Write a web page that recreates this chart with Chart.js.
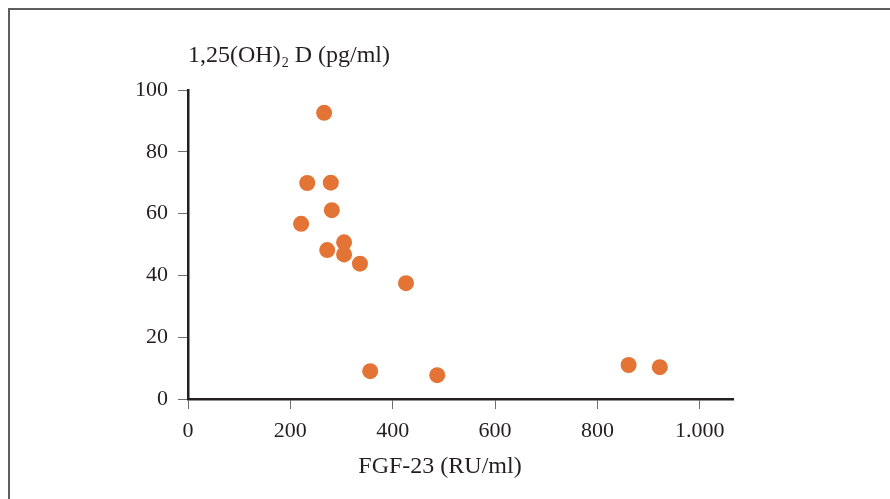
<!DOCTYPE html>
<html lang="en">
<head>
<meta charset="UTF-8">
<title>FGF-23 vs 1,25(OH)2 D</title>
<style>
  html, body {
    margin: 0;
    padding: 0;
    background: #ffffff;
    overflow: hidden;
  }
  .wrap {
    position: relative;
    width: 890px;
    height: 499px;
  }
  .frame {
    position: absolute;
    left: 8px;
    top: 8px;
    width: 900px;
    height: 520px;
    border-top: 2px solid #5e5e5e;
    border-left: 2px solid #5e5e5e;
  }
  canvas {
    position: absolute;
    left: 0;
    top: 0;
  }
</style>
</head>
<body>
<div class="wrap">
  <div class="frame"></div>
  <canvas id="plot" width="890" height="499"></canvas>
</div>
<script src="https://cdn.jsdelivr.net/npm/chart.js@4/dist/chart.umd.min.js"></script>
<script>
  // FGF-23 (RU/ml) against 1,25(OH)2 D (pg/ml)
  var fgf23 = [266, 233, 279, 281, 221, 272, 305, 305, 336, 426, 356, 487, 861, 922];
  var vitD = [92.6, 69.9, 70.0, 61.1, 56.7, 48.2, 50.7, 46.8, 43.8, 37.5, 9.0, 7.7, 11.0, 10.3];
  var xTicks = [0, 200, 400, 600, 800, 1000];
  var yTicks = [0, 20, 40, 60, 80, 100];

  var ink = '#231f20';
  var serif = '"Liberation Serif", "Times New Roman", serif';

  var points = fgf23.map(function(v, i) { return { x: v, y: vitD[i] }; });

  function dotted(v) {
    var s = String(v);
    return s.length > 3 ? s.slice(0, -3) + '.' + s.slice(-3) : s;
  }

  // axis titles: y title sits above the axis, x title below the labels
  var titles = {
    id: 'titles',
    afterDraw: function(chart) {
      var ctx = chart.ctx;
      var area = chart.chartArea;
      ctx.save();
      ctx.fillStyle = ink;
      ctx.textBaseline = 'alphabetic';
      ctx.textAlign = 'left';
      var x = area.left;
      var base = area.top - 28;
      ctx.font = '24px ' + serif;
      ctx.fillText('1,25(OH)', x, base);
      x += ctx.measureText('1,25(OH)').width + 1;
      ctx.font = '14px ' + serif;
      ctx.fillText('2', x, base + 5);
      x += ctx.measureText('2').width;
      ctx.font = '24px ' + serif;
      ctx.fillText(' D (pg/ml)', x, base);

      ctx.textAlign = 'center';
      ctx.fillText('FGF-23 (RU/ml)', area.left + 252, area.bottom + 74);
      ctx.restore();
    }
  };

  new Chart(document.getElementById('plot'), {
    type: 'scatter',
    data: {
      datasets: [{
        data: points,
        backgroundColor: '#e37435',
        borderWidth: 0,
        pointRadius: 8,
        pointHoverRadius: 8
      }]
    },
    options: {
      responsive: false,
      animation: false,
      events: [],
      layout: {
        autoPadding: false,
        padding: { top: 90, right: 157, left: 0, bottom: 0 }
      },
      plugins: {
        legend: { display: false },
        tooltip: { enabled: false }
      },
      scales: {
        x: {
          type: 'linear',
          min: 0,
          max: 1065,
          afterFit: function(s) { s.height = 100; },
          afterBuildTicks: function(s) { s.ticks = xTicks.map(function(v) { return { value: v }; }); },
          border: { display: true, color: ink, width: 2.5 },
          grid: { drawOnChartArea: false, color: '#6f6f6f', lineWidth: 1, tickLength: 10 },
          ticks: {
            color: ink,
            font: { family: serif, size: 22 },
            padding: 9,
            maxRotation: 0,
            callback: function(v) { return dotted(v); }
          }
        },
        y: {
          type: 'linear',
          min: 0,
          max: 100,
          afterFit: function(s) { s.width = 188; },
          afterBuildTicks: function(s) { s.ticks = yTicks.map(function(v) { return { value: v }; }); },
          border: { display: true, color: ink, width: 2.5 },
          grid: { drawOnChartArea: false, color: '#6f6f6f', lineWidth: 1, tickLength: 10 },
          ticks: {
            color: ink,
            font: { family: serif, size: 22 },
            padding: 10
          }
        }
      }
    },
    plugins: [titles]
  });
</script>
</body>
</html>
